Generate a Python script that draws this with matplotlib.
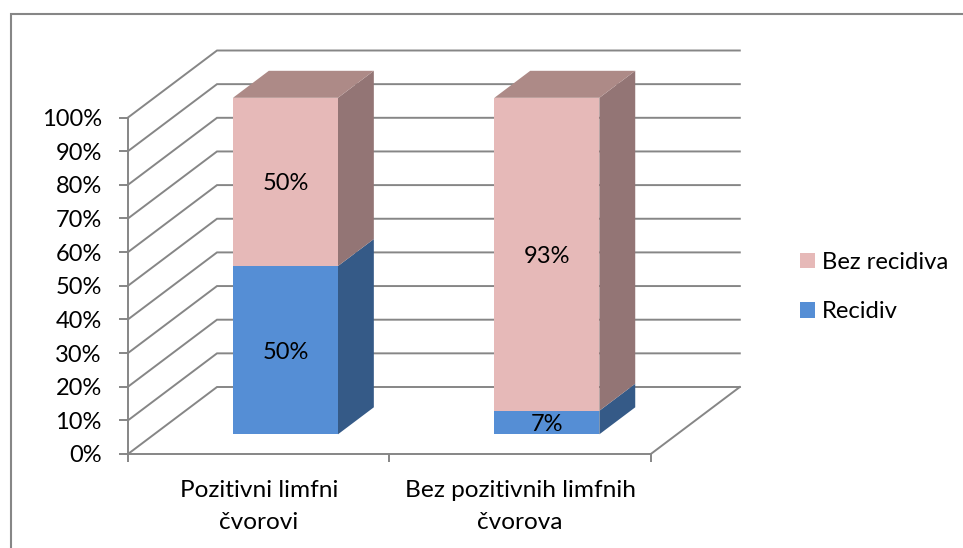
import matplotlib
matplotlib.use('Agg')
import matplotlib.pyplot as plt
from matplotlib.lines import Line2D

plt.rcParams['font.family'] = ['Lato', 'DejaVu Sans']

categories = ['Pozitivni limfni\nčvorovi', 'Bez pozitivnih limfnih\nčvorova']
recidiv = [50, 7]
bez_recidiva = [50, 93]
y_ticks = list(range(0, 101, 10))

W, H = 963, 548
GRAY = '#868686'
LW = 1.4

fig = plt.figure(figsize=(W / 100, H / 100), dpi=100)
# front plane of the 3D box
ax = fig.add_axes([128 / W, 1 - 454 / H, (650.8 - 128) / W, (454 - 117.5) / H])
ax.set_xlim(0, 2)
ax.set_ylim(0, 100)

# depth of the box in data units
cat_px = (650.8 - 128) / 2
val_px = (454 - 117.5) / 100
depth_x = 89 / cat_px
depth_y = 67 / val_px


def proj(x, v, d):
    # d = 0 front plane, d = 1 back wall
    return x + d * depth_x, v + d * depth_y


# walls and floor
for v in y_ticks:
    p0 = proj(0, v, 0)
    p1 = proj(0, v, 1)
    p2 = proj(2, v, 1)
    ax.plot([p0[0], p1[0], p2[0]], [p0[1], p1[1], p2[1]], color=GRAY, lw=LW,
            clip_on=False, zorder=1, solid_joinstyle='miter')
p0 = proj(2, 0, 0)
p1 = proj(2, 0, 1)
ax.plot([p0[0], p1[0]], [p0[1], p1[1]], color=GRAY, lw=LW, clip_on=False, zorder=1)

# bars
bar_w = 105 / cat_px
d_front = 19.7 / 67
d_back = 46.7 / 67
centers = [0.5 + d_front * depth_x + 0.6 / cat_px, 1.5 + d_front * depth_x + 0.6 / cat_px]
y_front = d_front * depth_y


def draw_segment(cx, bottom, val, side, top=None):
    xl = cx - bar_w / 2
    xr = cx + bar_w / 2
    v0 = bottom
    v1 = bottom + val
    dd = d_back - d_front
    sx = dd * depth_x
    sy = dd * depth_y
    ax.fill([xr, xr + sx, xr + sx, xr],
            [v0 + y_front, v0 + y_front + sy, v1 + y_front + sy, v1 + y_front],
            color=side, lw=0, clip_on=False, zorder=3)
    if top is not None:
        ax.fill([xl, xl + sx, xr + sx, xr],
                [v1 + y_front, v1 + y_front + sy, v1 + y_front + sy, v1 + y_front],
                color=top, lw=0, clip_on=False, zorder=3)


for i, cx in enumerate(centers):
    draw_segment(cx, 0, recidiv[i], '#355a87')
    draw_segment(cx, recidiv[i], bez_recidiva[i], '#937575', '#ad8a87')

b1 = ax.bar(centers, recidiv, bar_w, bottom=y_front, color='#558ed5', label='Recidiv',
            clip_on=False, zorder=4)
bottoms = [r + y_front for r in recidiv]
b2 = ax.bar(centers, bez_recidiva, bar_w, bottom=bottoms, color='#e6b9b8', label='Bez recidiva',
            clip_on=False, zorder=4)

# data labels
for i, cx in enumerate(centers):
    ax.text(cx, y_front + recidiv[i] / 2, f'{recidiv[i]}%', ha='center', va='center_baseline',
            fontsize=17, color='black', zorder=5)
    ax.text(cx, bottoms[i] + bez_recidiva[i] / 2, f'{bez_recidiva[i]}%', ha='center',
            va='center_baseline', fontsize=17, color='black', zorder=5)

# axes
for s in ['top', 'right']:
    ax.spines[s].set_visible(False)
for s in ['left', 'bottom']:
    ax.spines[s].set_color(GRAY)
    ax.spines[s].set_linewidth(LW)
ax.patch.set_alpha(0)

ax.set_yticks(y_ticks)
ax.set_yticklabels([f'{v}%' for v in y_ticks], fontsize=17)
ax.tick_params(axis='y', length=6.5, width=LW, color=GRAY, pad=12.4)
ax.set_xticks([0, 1, 2])
ax.set_xticklabels([])
ax.tick_params(axis='x', which='major', length=6, width=LW, color=GRAY)
ax.set_xticks([0.5, 1.5], minor=True)
ax.set_xticklabels(categories, minor=True, fontsize=17.6, linespacing=1.65)
ax.tick_params(axis='x', which='minor', length=0, pad=18.5)

# legend
ax.legend(handles=[b2, b1], loc='upper left', frameon=False,
          bbox_to_anchor=(800 / W, 1 - 252 / H), bbox_transform=fig.transFigure,
          borderpad=0, borderaxespad=0, handlelength=0.63, handleheight=0.63,
          handletextpad=0.3, labelspacing=1.18, prop={'size': 17.2})

# chart frame
fig.add_artist(Line2D([11 / W, 11 / W, 1], [0, 1 - 14 / H, 1 - 14 / H], color=GRAY, lw=1.5,
                      solid_joinstyle='miter'))

fig.savefig('out.png', dpi=100, facecolor='white')
